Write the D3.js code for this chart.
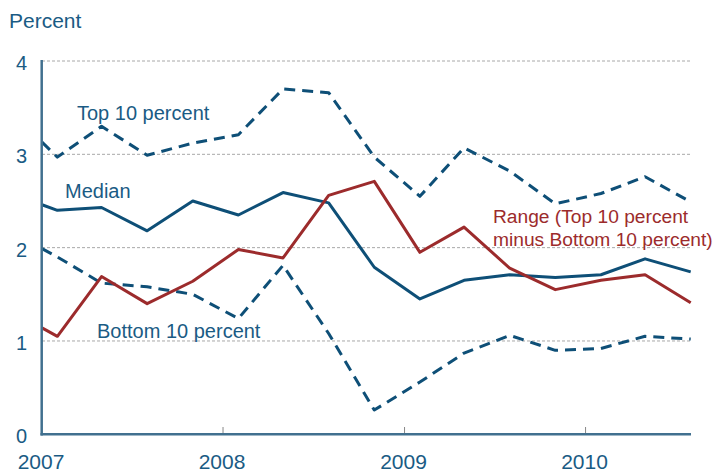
<!DOCTYPE html>
<html>
<head>
<meta charset="utf-8">
<title>Percent</title>
<script src="https://d3js.org/d3.v7.min.js"></script>
<style>
  body { margin: 0; background: #fff; }
  svg text { font-family: "Liberation Sans", Arial, sans-serif; }
</style>
</head>
<body>
<svg width="715" height="472"></svg>
<script>
// dates: start of 2007, then quarterly (Feb, May, Aug, Nov) through Aug 2010
var dates = ["2007-01", "2007-02", "2007-05", "2007-08", "2007-11",
             "2008-02", "2008-05", "2008-08", "2008-11",
             "2009-02", "2009-05", "2009-08", "2009-11",
             "2010-02", "2010-05", "2010-08"];
var top10  = [3.13, 2.97, 3.30, 2.99, 3.12, 3.21, 3.70, 3.66, 2.97, 2.55, 3.07, 2.82, 2.47, 2.58, 2.76, 2.49];
var median = [2.46, 2.40, 2.43, 2.18, 2.50, 2.35, 2.59, 2.48, 1.79, 1.45, 1.65, 1.71, 1.68, 1.71, 1.88, 1.74];
var bottom10 = [1.99, 1.90, 1.62, 1.58, 1.50, 1.24, 1.81, 1.08, 0.26, 0.56, 0.87, 1.06, 0.90, 0.92, 1.05, 1.02];
var range  = [1.14, 1.05, 1.69, 1.40, 1.64, 1.98, 1.89, 2.56, 2.71, 1.95, 2.22, 1.78, 1.55, 1.65, 1.71, 1.41];
var yTicks = [0, 1, 2, 3, 4];
var yearTicks = [2007, 2008, 2009, 2010];

var blue = "#0e4f77", red = "#9c2b2c", textBlue = "#1a5b84", axisCol = "#41708f";

var svg = d3.select("svg");
var parse = d3.timeParse("%Y-%m");
var xDates = dates.map(parse);

var x = d3.scaleTime()
    .domain([new Date(2007, 0, 1), new Date(2010, 7, 1)])
    .range([42, 690.7]);
var y = d3.scaleLinear().domain([0, 4]).range([434.3, 61]);

// dotted gridlines
svg.selectAll(".grid").data(yTicks.filter(function (d) { return d > 0; }))
  .enter().append("line")
  .attr("x1", 42).attr("x2", 690.7)
  .attr("y1", function (d) { return y(d); })
  .attr("y2", function (d) { return y(d); })
  .attr("stroke", "#a8a8a8").attr("stroke-width", 1)
  .attr("stroke-dasharray", "3,2");

// y labels
svg.selectAll(".ylab").data(yTicks).enter().append("text")
  .attr("x", 27).attr("y", function (d) { return y(d) + 9; })
  .attr("text-anchor", "end").attr("font-size", 20).attr("fill", textBlue)
  .text(function (d) { return d; });

// year ticks and labels
svg.selectAll(".xtick").data(yearTicks.slice(1)).enter().append("line")
  .attr("x1", function (d) { return x(new Date(d, 0, 1)); })
  .attr("x2", function (d) { return x(new Date(d, 0, 1)); })
  .attr("y1", 427).attr("y2", 434)
  .attr("stroke", "#888").attr("stroke-width", 1);
svg.selectAll(".xlab").data(yearTicks).enter().append("text")
  .attr("x", function (d) { return x(new Date(d, 0, 1)) - 1; })
  .attr("y", 469).attr("text-anchor", "middle")
  .attr("font-size", 21).attr("fill", textBlue)
  .text(function (d) { return d; });

// series
var line = d3.line()
  .x(function (d, i) { return x(xDates[i]); })
  .y(function (d) { return y(d); });

function draw(vals, col, dash) {
  svg.append("path").datum(vals)
    .attr("d", line).attr("fill", "none")
    .attr("stroke", col).attr("stroke-width", 3)
    .attr("stroke-linejoin", "round")
    .attr("stroke-dasharray", dash ? "11,7" : null);
}
draw(top10, blue, true);
draw(bottom10, blue, true);
draw(median, blue, false);
draw(range, red, false);

// axes
svg.append("line").attr("x1", 41.7).attr("x2", 41.7).attr("y1", 60).attr("y2", 435.5)
  .attr("stroke", axisCol).attr("stroke-width", 2.5);
svg.append("line").attr("x1", 40.5).attr("x2", 691).attr("y1", 434.3).attr("y2", 434.3)
  .attr("stroke", axisCol).attr("stroke-width", 2.5);

// labels
svg.append("text").attr("x", 9).attr("y", 28).attr("font-size", 21)
  .attr("fill", textBlue).text("Percent");
var labels = [
  { t: "Top 10 percent", x: 77, y: 120, c: textBlue, s: 20 },
  { t: "Median", x: 65, y: 198, c: textBlue, s: 20 },
  { t: "Bottom 10 percent", x: 97, y: 338, c: textBlue, s: 20 },
  { t: "Range (Top 10 percent", x: 493, y: 223, c: red, s: 19.2 },
  { t: "minus Bottom 10 percent)", x: 493, y: 246, c: red, s: 19.2 }
];
svg.selectAll(".lab").data(labels).enter().append("text")
  .attr("x", function (d) { return d.x; }).attr("y", function (d) { return d.y; })
  .attr("font-size", function (d) { return d.s; }).attr("fill", function (d) { return d.c; })
  .text(function (d) { return d.t; });
</script>
</body>
</html>
